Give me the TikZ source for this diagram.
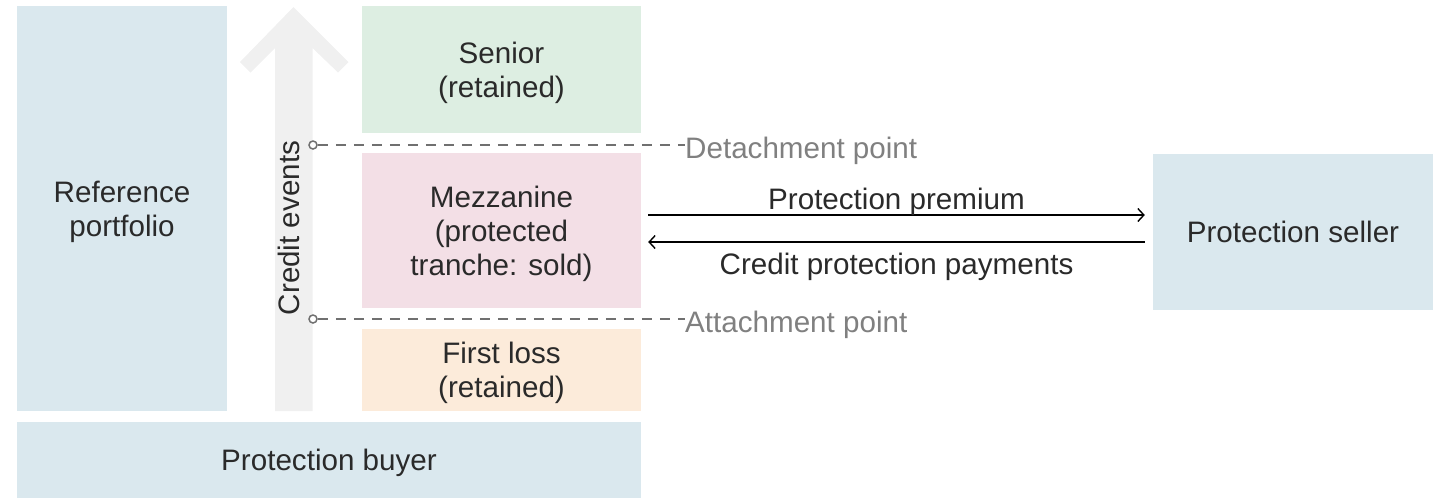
\documentclass[tikz,border=0pt]{standalone}
\usepackage{fontspec}
\setmainfont{Liberation Sans}
\usetikzlibrary{arrows.meta}

\definecolor{bluebox}{HTML}{DAE8EE}
\definecolor{greenbox}{HTML}{DDEEE2}
\definecolor{pinkbox}{HTML}{F3DFE6}
\definecolor{orangebox}{HTML}{FCEBDA}
\definecolor{greyarrow}{HTML}{F0F0F0}
\definecolor{txt}{HTML}{2A2A2A}
\definecolor{marker}{HTML}{707070}
\definecolor{marktxt}{HTML}{808080}

\begin{document}
\begin{tikzpicture}[x=1pt,y=-1pt,
  every node/.style={font=\fontsize{29.6}{34}\selectfont, text=txt},
  block/.style={fill=#1, draw=none, inner sep=0pt, align=center, text depth=0pt},
  pointmark/.style={circle, draw=marker, fill=white, line width=1.5pt,
                    minimum size=8pt, inner sep=0pt},
  pointline/.style={draw=marker, line width=1.6pt, dash pattern=on 10pt off 8pt},
  pointlabel/.style={anchor=base west, inner sep=0pt, text=marktxt},
  flow/.style={draw=black, line width=1.4pt, -{Straight Barb[length=6pt,width=13pt,line width=1.4pt]}},
  flowlabel/.style={anchor=base, inner sep=0pt}
]
\useasboundingbox (0,0) rectangle (1438,499);

% upward arrow for credit events
\fill[greyarrow] (293.5,7) -- (348.5,62) -- (338,72.5) -- (312.5,48)
  -- (312.5,411) -- (275,411) -- (275,48) -- (250.5,72.5) -- (240,62) -- cycle;

% blocks
\node[block=bluebox, minimum width=210pt, minimum height=405pt] (ref) at (122,208.5)
  {Reference\\portfolio};
\node[block=greenbox, minimum width=279pt, minimum height=127pt] (senior) at (501.5,69.5)
  {Senior\\(retained)};
\node[block=pinkbox, minimum width=279pt, minimum height=155pt] (mezz) at (501.5,230.5)
  {Mezzanine\\(protected\\tranche: sold)};
\node[block=orangebox, minimum width=279pt, minimum height=82pt] (first) at (501.5,370)
  {First loss\\(retained)};
\node[block=bluebox, minimum width=624pt, minimum height=76pt] (buyer) at (329,460)
  {Protection buyer};
\node[block=bluebox, minimum width=280pt, minimum height=156pt] (seller) at (1293,232)
  {Protection seller};

\node[rotate=90, inner sep=0pt] (events) at (289,228) {Credit events};

% detachment and attachment points
\node[pointlabel] (detl) at (685,158) {Detachment point};
\node[pointlabel] (attl) at (685,332) {Attachment point};
\node[pointmark] (detm) at (313,145) {};
\node[pointmark] (attm) at (313,319) {};
\draw[pointline] (detm.east) -- (detm.east -| detl.west);
\draw[pointline] (attm.east) -- (attm.east -| attl.west);

% protection flows
\draw[flow] ([shift={(7,-15.5)}]mezz.east) -- ([shift={(-8,-17)}]seller.west);
\draw[flow] ([shift={(-8,10)}]seller.west) -- ([shift={(7,11.5)}]mezz.east);
\node[flowlabel] (prem) at (896.5,209) {Protection premium};
\node[flowlabel] (pay) at (896.5,274) {Credit protection payments};
\end{tikzpicture}
\end{document}
